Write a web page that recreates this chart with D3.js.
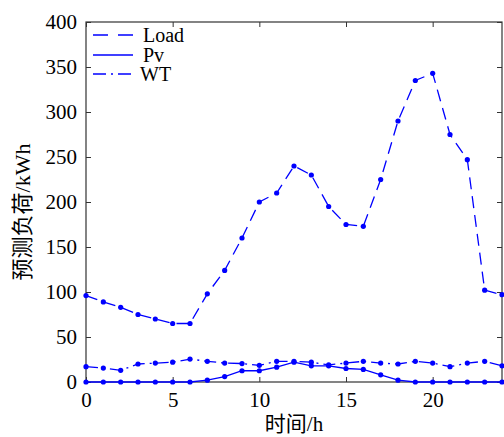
<!DOCTYPE html>
<html>
<head>
<meta charset="utf-8">
<script src="https://cdn.jsdelivr.net/npm/d3@7"></script>
<style>
  body { margin: 0; background: #fff; }
  svg text { font-family: "Liberation Serif", "Noto Sans CJK SC", serif; fill: #000; }
</style>
</head>
<body>
<div id="chart"></div>
<script>
// data
var hours = [0, 1, 2, 3, 4, 5, 6, 7, 8, 9, 10, 11, 12, 13, 14, 15, 16, 17, 18, 19, 20, 21, 22, 23, 24];
var load = [96, 89, 83, 75, 70, 65, 65, 98, 124, 160, 200, 210, 240, 230, 195, 175, 173, 225, 290, 335, 343, 275, 247, 102, 97];
var pv = [0, 0, 0, 0, 0, 0, 0, 2, 6, 12.5, 12.5, 16.5, 22, 18, 18, 15, 14, 8, 2, 0, 0, 0, 0, 0, 0];
var wt = [17, 15.5, 13, 20, 21, 22, 25.5, 23, 21, 20.5, 18.5, 23, 23, 22, 19, 21, 23, 21, 20, 23, 21, 17, 21, 23, 18];
var xTicks = [0, 5, 10, 15, 20];
var yTicks = [0, 50, 100, 150, 200, 250, 300, 350, 400];
var seriesNames = ["Load", "Pv", "WT"];

var width = 504, height = 437;
var plotL = 86, plotR = 502, plotT = 22, plotB = 382;
var blue = "#0000ff";

var svg = d3.select("#chart").append("svg")
  .attr("width", width)
  .attr("height", height);

var x = d3.scaleLinear().domain([0, 24]).range([plotL, plotR]);
var y = d3.scaleLinear().domain([0, 400]).range([plotB, plotT]);

// frame
svg.append("rect")
  .attr("x", plotL).attr("y", plotT)
  .attr("width", plotR - plotL).attr("height", plotB - plotT)
  .attr("fill", "none").attr("stroke", "#333").attr("stroke-width", 1.2);

// ticks inward on all four sides
var tickLen = 5;
svg.append("g").attr("transform", "translate(0," + plotB + ")")
  .call(d3.axisBottom(x).tickValues(xTicks).tickSize(-tickLen))
  .call(function(g) {
    g.select(".domain").remove();
    g.selectAll("line").attr("stroke", "#333");
    g.selectAll("text").attr("font-size", "21px").attr("dy", "0.71em").attr("y", 10);
  });
svg.append("g").attr("transform", "translate(0," + plotT + ")")
  .call(d3.axisTop(x).tickValues(xTicks).tickSize(-tickLen).tickFormat(""))
  .call(function(g) {
    g.select(".domain").remove();
    g.selectAll("line").attr("stroke", "#333");
  });
svg.append("g").attr("transform", "translate(" + plotL + ",0)")
  .call(d3.axisLeft(y).tickValues(yTicks).tickSize(-tickLen))
  .call(function(g) {
    g.select(".domain").remove();
    g.selectAll("line").attr("stroke", "#333");
    g.selectAll("text").attr("font-size", "21px").attr("x", -9);
  });
svg.append("g").attr("transform", "translate(" + plotR + ",0)")
  .call(d3.axisRight(y).tickValues(yTicks).tickSize(-tickLen).tickFormat(""))
  .call(function(g) {
    g.select(".domain").remove();
    g.selectAll("line").attr("stroke", "#333");
  });

// lines
var dashes = ["12,7", null, "12,5,2,5"];
var allSeries = [load, pv, wt];
var line = d3.line()
  .x(function(d, i) { return x(hours[i]); })
  .y(function(d) { return y(d); });

allSeries.forEach(function(s, k) {
  svg.append("path")
    .datum(s)
    .attr("d", line)
    .attr("fill", "none")
    .attr("stroke", blue)
    .attr("stroke-width", 1.3)
    .attr("stroke-dasharray", dashes[k]);

  svg.append("g")
    .selectAll("circle")
    .data(s)
    .enter()
    .append("circle")
    .attr("cx", function(d, i) { return x(hours[i]); })
    .attr("cy", function(d) { return y(d); })
    .attr("r", 2.6)
    .attr("fill", blue);
});

// legend
var legY = [35, 55, 74];
seriesNames.forEach(function(name, k) {
  svg.append("line")
    .attr("x1", 93).attr("x2", 133)
    .attr("y1", legY[k]).attr("y2", legY[k])
    .attr("stroke", blue)
    .attr("stroke-width", 1.3)
    .attr("stroke-dasharray", k == 0 ? "15,10" : (k == 2 ? "13,5,2,5" : null));
  svg.append("text")
    .attr("x", k == 2 ? 140 : 143)
    .attr("y", legY[k])
    .attr("dy", "0.33em")
    .attr("font-size", "20px")
    .text(name);
});

// axis titles
svg.append("text")
  .attr("x", 294)
  .attr("y", 431)
  .attr("text-anchor", "middle")
  .attr("font-size", "21px")
  .text("时间/h");

svg.append("text")
  .attr("transform", "translate(30,212) rotate(-90)")
  .attr("text-anchor", "middle")
  .attr("font-size", "22px")
  .text("预测负荷/kWh");
</script>
</body>
</html>
